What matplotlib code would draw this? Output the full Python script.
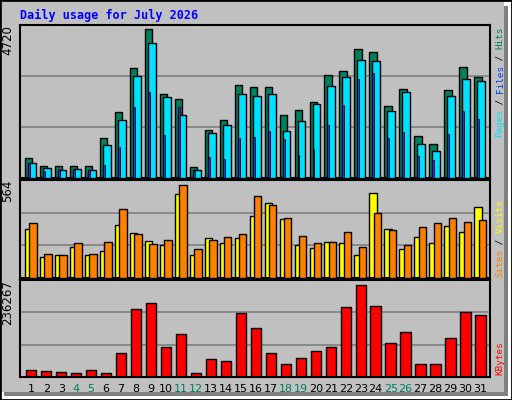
import matplotlib
matplotlib.use("Agg")
import matplotlib.pyplot as plt
from matplotlib.patches import Rectangle
import numpy as np

days = list(range(1, 32))
weekend = [4, 5, 11, 12, 18, 19, 25, 26]
hits = [642, 385, 385, 385, 385, 1284, 2087, 3500, 4720, 2665, 2504, 353, 1541, 1830, 2954, 2890,
        2890, 1990, 2151, 2408, 3275, 3403, 4110, 4013, 2280, 2825, 1349, 1092, 2793, 3532, 3210]
files = [482, 321, 257, 289, 257, 1060, 1830, 3243, 4303, 2569, 1990, 257, 1445, 1670, 2665, 2600,
         2665, 1509, 1798, 2344, 2922, 3210, 3757, 3725, 2119, 2729, 1092, 867, 2600, 3147, 3082]
pages = [482, 225, 289, 257, 257, 417, 995, 2248, 2729, 1381, 2248, 225, 674, 610, 1284, 1316,
         1509, 1252, 738, 931, 1670, 2312, 3147, 3339, 1284, 1477, 706, 578, 1413, 2119, 1862]
visits = [295, 124, 142, 185, 136, 161, 319, 271, 222, 197, 508, 136, 240, 210, 240, 374,
          454, 356, 197, 179, 216, 210, 142, 515, 295, 173, 246, 210, 313, 277, 429]
sites = [332, 148, 142, 210, 148, 216, 417, 264, 203, 228, 564, 173, 228, 246, 264, 496,
         441, 362, 252, 210, 216, 277, 185, 393, 289, 197, 307, 332, 362, 338, 350]
kbytes = [18970, 16383, 13797, 11210, 18970, 11210, 60360, 174182, 189704, 75882, 109510, 11210,
          44839, 39665, 163835, 125032, 60360, 34492, 47426, 65534, 75882, 179357, 236267, 181944,
          86229, 114685, 34492, 34492, 99163, 166423, 158663]

C_HITS, C_FILES, C_PAGES = "#00805c", "#00e0ff", "#0040ff"
C_VIS, C_SITES, C_KB = "#ffff00", "#ff8000", "#ff0000"
BG = "#c0c0c0"
MONO = "DejaVu Sans Mono"

W, H = 512, 400
fig = plt.figure(figsize=(W / 100, H / 100), dpi=100)
fig.patch.set_facecolor("white")
fig.add_artist(Rectangle((4 / W, 4 / H), 504 / W, 390 / H, transform=fig.transFigure,
                         fc="#808080", ec="none", zorder=-10))
fig.add_artist(Rectangle((2 / W, 8 / H), 502 / W, 390 / H, transform=fig.transFigure,
                         fc=BG, ec="none", zorder=-9))
fig.add_artist(Rectangle((0, 0), 1, 1, transform=fig.transFigure, fill=False, ec="black", lw=2,
                         zorder=-8))

def ax_px(x0, y0, x1, y1):
    ax = fig.add_axes([x0 / W, 1 - y1 / H, (x1 - x0) / W, (y1 - y0) / H])
    ax.set_facecolor(BG)
    ax.set_xlim(-0.33, 31.05)
    ax.set_xticks([])
    ax.set_yticks([])
    for s in ax.spines.values():
        s.set_linewidth(1.5)
        s.set_color("black")
    for f in (1 / 3, 2 / 3):
        ax.plot([0, 1], [f, f], color="#808080", lw=1.2, transform=ax.transAxes, zorder=0.5)
    return ax

x = np.arange(31)

ax1 = ax_px(20, 25, 490, 178)
ax1.bar(x, hits, width=0.5, align="edge", color=C_HITS, ec="black", lw=1, zorder=2)
ax1.bar(x + 0.2, files, width=0.53, align="edge", color=C_FILES, ec="black", lw=1, zorder=3)
ax1.bar(x + 0.2, pages, width=0.13, align="edge", color=C_PAGES, ec="black", lw=0.6, zorder=4)
ax1.set_ylim(0, max(hits) * 1.03)

ax2 = ax_px(20, 180, 490, 278)
ax2.bar(x, visits, width=0.5, align="edge", color=C_VIS, ec="black", lw=1, zorder=2)
ax2.bar(x + 0.29, sites, width=0.5, align="edge", color=C_SITES, ec="black", lw=1, zorder=3)
ax2.set_ylim(0, max(sites) * 1.05)

ax3 = ax_px(20, 280, 490, 377)
ax3.bar(x + 0.07, kbytes, width=0.7, align="edge", color=C_KB, ec="black", lw=1, zorder=2)
ax3.set_ylim(0, max(kbytes) * 1.05)

for d in days:
    ax3.text(d - 1 + 0.42, -0.12, str(d), transform=ax3.get_xaxis_transform(), ha="center",
             va="center", fontsize=8, color=("#00805c" if d in weekend else "black"))

fig.text(20 / W, 1 - 15 / H, "Daily usage for July 2026", family=MONO, weight="bold",
         fontsize=8.5, color="#0000ff", va="center", ha="left")

def ylab(ax, val):
    ax.text(-0.012, 1.0, str(val), transform=ax.transAxes, rotation=90, ha="right", va="top",
            fontsize=8.5)

ylab(ax1, max(hits)); ylab(ax2, max(sites)); ylab(ax3, max(kbytes))

CH = 5.5
def vlabel(ybottom, parts):
    y = ybottom
    for txt, col in parts:
        fig.text(500 / W, 1 - y / H, txt, rotation=90, family=MONO, fontsize=6.7, color=col,
                 ha="center", va="bottom")
        y -= CH * len(txt)

vlabel(137, [("Pages", C_FILES), (" / ", "black"), ("Files", C_PAGES), (" / ", "black"), ("Hits", C_HITS)])
vlabel(277, [("Sites", C_SITES), (" / ", "black"), ("Visits", C_VIS)])
vlabel(375, [("KBytes", C_KB)])

fig.savefig("out.png", dpi=100, facecolor=fig.get_facecolor())
